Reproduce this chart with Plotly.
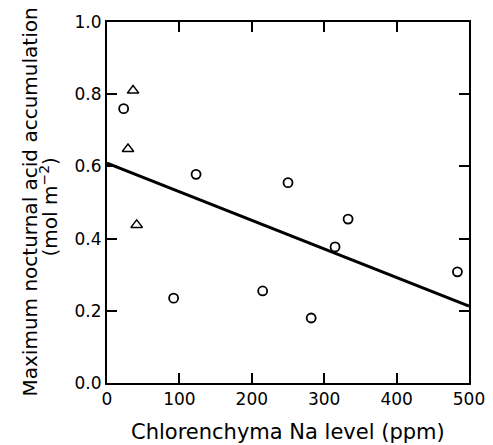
import plotly.graph_objects as go

# Data
circle_x = [23, 92, 123, 215, 250, 282, 315, 333, 484]
circle_y = [0.76, 0.235, 0.578, 0.255, 0.555, 0.18, 0.377, 0.454, 0.308]
tri_x = [36, 29, 41]
tri_y = [0.81, 0.648, 0.438]
fit_x = [0, 500]
fit_y = [0.609, 0.213]

x_ticks = [0, 100, 200, 300, 400, 500]
y_ticks = [0.0, 0.2, 0.4, 0.6, 0.8, 1.0]
y_labels = ["0.0", "0.2", "0.4", "0.6", "0.8", "1.0"]

x_title = "Chlorenchyma Na level (ppm)"
y_title_1 = "Maximum nocturnal acid accumulation"
y_title_2 = "(mol m<sup>−2</sup>)"

FONT = "DejaVu Sans, Arial, sans-serif"

fig = go.Figure()
fig.add_trace(go.Scatter(x=fit_x, y=fit_y, mode="lines",
                         line=dict(color="black", width=3), showlegend=False,
                         cliponaxis=False))
fig.add_trace(go.Scatter(x=circle_x, y=circle_y, mode="markers",
                         marker=dict(symbol="circle-open", size=9, color="black",
                                     line=dict(width=1.8, color="black")),
                         showlegend=False))
fig.add_trace(go.Scatter(x=tri_x, y=tri_y, mode="markers",
                         marker=dict(symbol="triangle-up-open", size=10, color="black",
                                     line=dict(width=1.5, color="black")),
                         showlegend=False))

fig.update_layout(
    width=493, height=445,
    margin=dict(l=107, r=24, t=22, b=62, autoexpand=False),
    paper_bgcolor="white", plot_bgcolor="white",
    font=dict(family=FONT, color="black"),
)
fig.update_xaxes(
    range=[0, 500], tickvals=x_ticks, ticks="inside", ticklen=10, tickwidth=1.8,
    tickcolor="black", showline=True, linecolor="black", linewidth=2, mirror="ticks",
    showgrid=False, zeroline=False, tickfont=dict(size=17), ticklabeloverflow="allow",
)
fig.update_yaxes(
    range=[0, 1.0], tickvals=y_ticks, ticktext=y_labels, ticks="inside", ticklen=10,
    tickwidth=1.8, tickcolor="black", showline=True, linecolor="black", linewidth=2,
    mirror="ticks", showgrid=False, zeroline=False, tickfont=dict(size=17),
    ticklabeloverflow="allow",
)

fig.add_annotation(text=x_title, xref="paper", yref="paper", x=0.5, y=0,
                   xanchor="center", yanchor="top", yshift=-35, showarrow=False,
                   font=dict(size=21))
fig.add_annotation(text=y_title_1, xref="paper", yref="paper", x=0, y=0.5,
                   xanchor="center", yanchor="middle", xshift=-78, textangle=-90,
                   showarrow=False, font=dict(size=20))
fig.add_annotation(text=y_title_2, xref="paper", yref="paper", x=0, y=0.5,
                   xanchor="center", yanchor="middle", xshift=-59, yshift=-5,
                   textangle=-90, showarrow=False, font=dict(size=20))

# remove the default page margin / scrollbars so the figure fills the window
fig.write_html(
    "out.html",
    config={"displayModeBar": False},
    post_script="document.body.style.margin='0';document.body.style.overflow='hidden';",
)
